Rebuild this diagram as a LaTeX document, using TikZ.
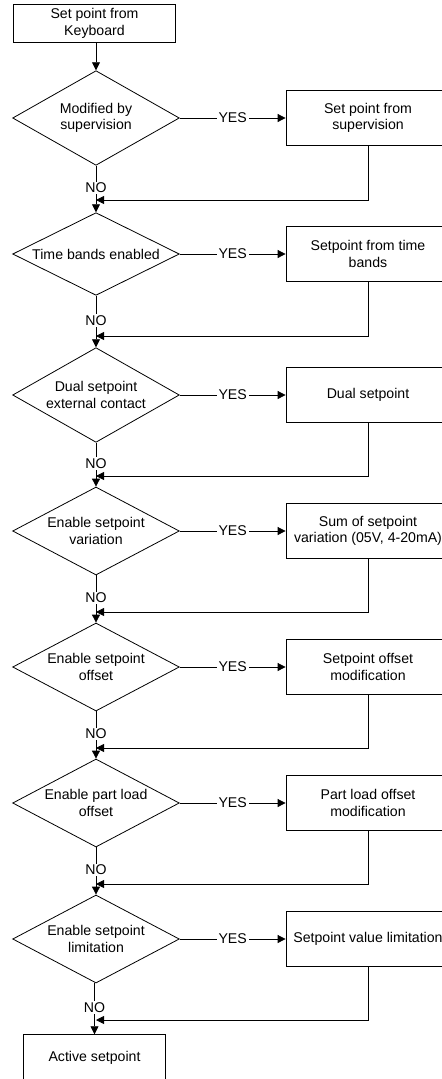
\documentclass[tikz,border=0pt]{standalone}
\usepackage{fontspec}
\setmainfont{Liberation Sans}
\usetikzlibrary{arrows.meta,positioning,shapes.geometric}

\begin{document}
\begin{tikzpicture}[
  x=0.75pt,
  y=-0.75pt,
  font=\fontsize{10.6pt}{12.4pt}\selectfont,
  line width=0.6pt,
  decision/.style={
    draw,
    diamond,
    shape aspect=2,
    inner sep=0pt,
    minimum width=125pt,
    minimum height=66pt,
    align=center
  },
  action/.style={
    draw,
    inner sep=0pt,
    minimum width=123pt,
    minimum height=41pt,
    align=center
  },
  terminal/.style={
    draw,
    inner sep=0pt,
    minimum width=122pt,
    minimum height=28pt,
    align=center
  },
  arrow/.style={
    -{Triangle[length=6pt,width=6pt]}
  },
  yes/.style={fill=white, inner sep=1.5pt, pos=0.5},
  no/.style={fill=white, inner sep=1pt, pos=0.48}
]

\clip (0,0) rectangle (442,1079);

%---------------------------------
% Start
%---------------------------------
\node[terminal] (kbd) at (94.5,23.5) {Set point from\\Keyboard};

%---------------------------------
% Decisions and actions
%---------------------------------
\node[decision, minimum height=71pt] (modq) at (96,118) {Modified by\\supervision};
\node[action] (sup) at (368,118) {Set point from\\supervision};
\coordinate (m1) at (96,200);

\node[decision, minimum height=62pt] (timeq) at (96,254) {Time bands enabled};
\node[action] (time) at (368,254) {Setpoint from time\\bands};
\coordinate (m2) at (96,336);

\node[decision, minimum height=71pt] (dualq) at (96,395) {Dual setpoint\\external contact};
\node[action] (dual) at (368,395) {Dual setpoint};
\coordinate (m3) at (96,476);

\node[decision] (varq) at (96,531) {Enable setpoint\\variation};
\node[action] (var) at (368,531) {Sum of setpoint\\variation (05V, 4-20mA)};
\coordinate (m4) at (96,612);

\node[decision] (offq) at (96,667) {Enable setpoint\\offset};
\node[action] (off) at (368,667) {Setpoint offset\\modification};
\coordinate (m5) at (96,748);

\node[decision] (partq) at (96,803) {Enable part load\\offset};
\node[action] (part) at (368,803) {Part load offset\\modification};
\coordinate (m6) at (96,884);

\node[decision] (limq) at (96,939) {Enable setpoint\\limitation};
\node[action] (lim) at (368,939) {Setpoint value limitation};
\coordinate (m7) at (96,1020);

%---------------------------------
% End
%---------------------------------
\node[terminal, minimum width=107pt, minimum height=35pt] (active) at (94.5,1058) {Active setpoint};

%---------------------------------
% Connections
%---------------------------------
\draw[arrow] (kbd.south -| modq.north) -- (modq.north);

\draw[arrow] (modq.east) -- node[yes] {YES} (sup.west);
\draw[arrow] (sup.south) |- (m1);
\draw[arrow] (modq.south) -- node[no] {NO} (timeq.north);

\draw[arrow] (timeq.east) -- node[yes] {YES} (time.west);
\draw[arrow] (time.south) |- (m2);
\draw[arrow] (timeq.south) -- node[no] {NO} (dualq.north);

\draw[arrow] (dualq.east) -- node[yes] {YES} (dual.west);
\draw[arrow] (dual.south) |- (m3);
\draw[arrow] (dualq.south) -- node[no] {NO} (varq.north);

\draw[arrow] (varq.east) -- node[yes] {YES} (var.west);
\draw[arrow] (var.south) |- (m4);
\draw[arrow] (varq.south) -- node[no] {NO} (offq.north);

\draw[arrow] (offq.east) -- node[yes] {YES} (off.west);
\draw[arrow] (off.south) |- (m5);
\draw[arrow] (offq.south) -- node[no] {NO} (partq.north);

\draw[arrow] (partq.east) -- node[yes] {YES} (part.west);
\draw[arrow] (part.south) |- (m6);
\draw[arrow] (partq.south) -- node[no] {NO} (limq.north);

\draw[arrow] (limq.east) -- node[yes] {YES} (lim.west);
\draw[arrow] (lim.south) |- (m7);
\draw[arrow] (limq.south -| active.north) -- node[no] {NO} (active.north);

\end{tikzpicture}
\end{document}
